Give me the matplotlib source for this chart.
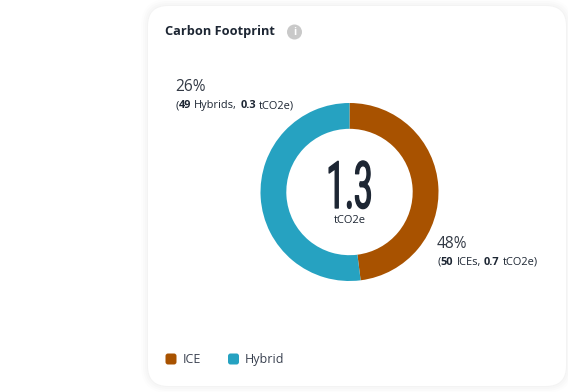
import matplotlib
matplotlib.use("Agg")
import matplotlib.pyplot as plt
from matplotlib.patches import FancyBboxPatch, Circle
from matplotlib.patheffects import AbstractPathEffect, Stroke
from matplotlib.transforms import Affine2D

categories = ["ICE", "Hybrid"]
shares = [48, 52]
colors = ["#A85200", "#26A2C1"]
total = "1.3"
unit = "tCO2e"
ice_pct = "48%"
hybrid_pct = "26%"
ice_parts = [("(", False), ("50", True), (" ICEs,", False), (" 0.7", True), (" tCO2e)", False)]
hybrid_parts = [("(", False), ("49", True), (" Hybrids,", False), (" 0.3", True), (" tCO2e)", False)]

DARK = "#1d2633"
FONT = "Open Sans"

plt.rcParams["font.family"] = [FONT, "DejaVu Sans"]


# squeezes text sideways, there is no condensed font for the big number
class Squeeze(AbstractPathEffect):
    def __init__(self, cx, sx):
        super().__init__()
        self.cx = cx
        self.sx = sx

    def draw_path(self, renderer, gc, tpath, affine, rgbFace=None):
        squeeze = Affine2D().translate(-self.cx, 0).scale(self.sx, 1).translate(self.cx, 0)
        gc.set_linewidth(1.0)
        gc.set_foreground(DARK)
        renderer.draw_path(gc, tpath, affine + squeeze, rgbFace)


fig = plt.figure(figsize=(5.68, 3.92), dpi=100, facecolor="white")

# whole figure in pixel coordinates
ax = fig.add_axes([0, 0, 1, 1])
ax.set_xlim(0, 568)
ax.set_ylim(392, 0)
ax.axis("off")

# card with soft shadow
for grow, alpha in [(7, 0.008), (5, 0.010), (3, 0.012), (1, 0.015)]:
    ax.add_patch(FancyBboxPatch((148 - grow, 6 - grow), 418 + 2 * grow, 380 + 2 * grow,
                                boxstyle="round,pad=0,rounding_size=%d" % (20 + grow),
                                fc="black", ec="none", alpha=alpha))
ax.add_patch(FancyBboxPatch((148, 6), 418, 380, boxstyle="round,pad=0,rounding_size=20",
                            fc="white", ec="none"))

ax.text(165, 31, "Carbon Footprint", fontsize=9.2, fontweight="bold", color=DARK, va="center")
ax.add_patch(Circle((294.5, 32), 7.5, fc="#c9c9c9", ec="none"))
ax.text(294.5, 32, "i", fontsize=7.5, color="white", ha="center", va="center", fontweight="bold")


def label_line(x, y, parts):
    fig.canvas.draw()
    r = fig.canvas.get_renderer()
    for s, bold in parts:
        # extents skip the leading space, so it is added by hand
        if s.startswith(" "):
            x += 2.6
        t = ax.text(x, y, s.strip(), fontsize=7.9, color=DARK, va="baseline",
                    fontweight="bold" if bold else "normal")
        x += t.get_window_extent(r).width + 0.5


ax.text(175, 91, hybrid_pct, fontsize=11.2, color="#333a45", va="baseline")
label_line(175, 108, hybrid_parts)
ax.text(437, 248, ice_pct, fontsize=11.2, color="#333a45", va="baseline")
label_line(437, 265, ice_parts)

# legend
for x, tx, c, name in zip([165.5, 228], [183, 245], colors, categories):
    ax.add_patch(FancyBboxPatch((x, 353.5), 11, 11, boxstyle="round,pad=0,rounding_size=2.5",
                                fc=c, ec="none"))
    ax.text(tx, 359.5, name, fontsize=9, color="#3a4150", va="center")

# donut
cx, cy, R = 349.5, 192, 89
pie_ax = fig.add_axes([(cx - R) / 568, 1 - (cy + R) / 392, 2 * R / 568, 2 * R / 392])
pie_ax.pie(shares, colors=colors, startangle=90, counterclock=False, radius=1,
           wedgeprops={"width": 0.29, "edgecolor": "none"})
pie_ax.set_xlim(-1, 1)
pie_ax.set_ylim(-1, 1)
pie_ax.patch.set_alpha(0)

big = ax.text(cx, 208, total, fontsize=47, color=DARK, ha="center", va="baseline",
              family="Roboto", fontweight="normal", zorder=5)
big.set_path_effects([Squeeze(cx, 0.51)])
ax.text(cx, 220.5, unit, fontsize=8, color=DARK, ha="center", va="center", zorder=5)

fig.savefig("out.png", dpi=100)
